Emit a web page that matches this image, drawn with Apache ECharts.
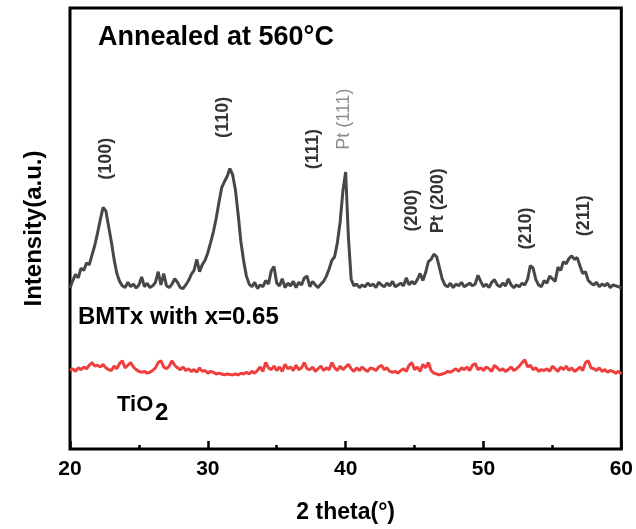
<!DOCTYPE html>
<html>
<head>
<meta charset="utf-8">
<script src="https://cdn.jsdelivr.net/npm/echarts@6/dist/echarts.min.js"></script>
<style>
  html, body { margin: 0; padding: 0; background: #fff; }
  #xrd { width: 636px; height: 529px; }
</style>
</head>
<body>
<div id="xrd"></div>
<script>
// 2 theta grid: 20.0 .. 60.0 deg, step 0.2
const thetaStart = 20;
const thetaStep = 0.2;

// BMTx with x=0.65 (a.u.)
const bmtIntensity = [
  365, 382, 396, 388, 410, 405, 422, 418, 440, 462,
  490, 520, 548, 540, 505, 470, 430, 398, 380, 370,
  366, 378, 368, 374, 365, 372, 390, 368, 376, 366,
  370, 378, 402, 372, 398, 370, 366, 374, 386, 378,
  366, 364, 372, 382, 396, 405, 430, 402, 418, 428,
  445, 468, 492, 522, 558, 592, 606, 618, 636, 622,
  588, 532, 470, 426, 392, 374, 368, 378, 364, 372,
  368, 382, 374, 404, 414, 376, 370, 386, 366, 376,
  370, 380, 366, 378, 372, 388, 392, 368, 380, 372,
  366, 374, 380, 392, 408, 428, 436, 468, 515, 585,
  628, 480, 385, 370, 374, 366, 372, 368, 376, 370,
  374, 366, 378, 372, 368, 376, 370, 380, 368, 372,
  376, 370, 388, 372, 380, 374, 384, 398, 382, 400,
  425, 430, 442, 436, 412, 386, 372, 368, 376, 366,
  374, 370, 378, 368, 372, 376, 370, 374, 394, 380,
  368, 374, 366, 378, 384, 372, 368, 376, 370, 386,
  372, 366, 372, 368, 376, 372, 385, 416, 410, 384,
  372, 368, 382, 376, 392, 386, 380, 412, 405, 425,
  420, 432, 438, 430, 434, 415, 398, 402, 382, 376,
  372, 378, 368, 374, 370, 376, 366, 372, 370, 368,
  365
];

// TiO2 substrate
const tio2Intensity = [
  178, 182, 176, 184, 180, 186, 182, 190, 196, 188,
  190, 186, 192, 184, 180, 178, 188, 182, 194, 200,
  184, 190, 196, 186, 180, 176, 174, 176, 172, 174,
  178, 184, 196, 200, 186, 182, 188, 200, 190, 184,
  180, 186, 178, 182, 176, 180, 174, 184, 176, 178,
  172, 176, 174, 170, 172, 170, 168, 170, 169, 168,
  170, 168, 172, 170, 174, 170, 176, 172, 178, 186,
  176, 196, 184, 180, 188, 178, 186, 176, 192, 182,
  186, 178, 190, 180, 184, 196, 182, 180, 186, 176,
  182, 188, 178, 184, 180, 196, 184, 178, 188, 180,
  186, 192, 182, 176, 184, 178, 186, 180, 176, 184,
  182, 178, 186, 190, 180, 184, 176, 174, 176, 172,
  178, 182, 176, 190, 196, 180, 186, 176, 192, 184,
  196, 178, 172, 170, 168, 170, 172, 176, 174, 178,
  182, 176, 184, 180, 186, 178, 190, 194, 180, 184,
  178, 186, 182, 176, 190, 184, 178, 182, 176, 180,
  186, 178, 182, 188, 196, 202, 186, 190, 180, 184,
  176, 180, 178, 182, 176, 188, 182, 176, 186, 180,
  188, 178, 184, 176, 180, 186, 178, 196, 200, 184,
  182, 178, 184, 176, 180, 174, 178, 176, 172, 176,
  170
];

// peak labels: text, 2theta position, height of label centre, colour
const peakNames = ["(100)", "(110)", "(111)", "Pt (111)", "(200)", "Pt (200)", "(210)", "(211)"];
const peakTheta = [22.6, 31.1, 37.6, 39.9, 44.8, 46.7, 53.1, 57.3];
const peakLabelY = [658, 752, 680, 748, 541, 563, 500, 529];
const peakColors = ["#000", "#000", "#000", "#707070", "#000", "#000", "#000", "#000"];

const xTicks = [20, 30, 40, 50, 60];

const font = "'Liberation Sans', Arial, sans-serif";

const toPairs = (arr) => arr.map((v, i) => [+(thetaStart + i * thetaStep).toFixed(1), v]);

const chart = echarts.init(document.getElementById("xrd"));

const option = {
  animation: false,
  backgroundColor: "#fff",
  grid: {
    left: 70,
    right: 14,
    top: 8,
    bottom: 77,
    show: true,
    borderColor: "#000",
    borderWidth: 3,
  },
  xAxis: {
    type: "value",
    min: xTicks[0],
    max: xTicks[xTicks.length - 1],
    interval: 10,
    name: "2 theta(°)",
    nameLocation: "middle",
    nameGap: 52,
    nameTextStyle: { fontSize: 23, fontWeight: "bold", color: "#000", fontFamily: font },
    axisLine: { show: false },
    axisTick: { show: true, inside: true, length: 8, lineStyle: { color: "#000", width: 2.5 } },
    minorTick: { show: true, splitNumber: 2, length: 4, lineStyle: { color: "#000", width: 2.5 } },
    axisLabel: { fontSize: 21, fontWeight: "bold", color: "#000", margin: 10, fontFamily: font },
    splitLine: { show: false },
  },
  yAxis: {
    type: "value",
    min: 0,
    max: 1000,
    name: "Intensity(a.u.)",
    nameLocation: "middle",
    nameGap: 24,
    nameTextStyle: { fontSize: 24, fontWeight: "bold", color: "#000", fontFamily: font },
    axisLine: { show: false },
    axisTick: { show: false },
    axisLabel: { show: false },
    splitLine: { show: false },
  },
  series: [
    {
      name: "BMTx",
      type: "line",
      data: toPairs(bmtIntensity),
      showSymbol: false,
      lineStyle: { color: "#474747", width: 3 },
      z: 3,
    },
    {
      name: "TiO2",
      type: "line",
      data: toPairs(tio2Intensity),
      showSymbol: false,
      lineStyle: { color: "#ef3e3e", width: 3 },
      z: 2,
    },
    {
      name: "peaks",
      type: "scatter",
      symbolSize: 0,
      z: 5,
      data: peakNames.map((n, i) => ({
        name: n,
        value: [peakTheta[i], peakLabelY[i]],
        label: { color: peakColors[i], fontWeight: i === 3 ? "normal" : "bold" },
      })),
      label: {
        show: true,
        position: "inside",
        formatter: "{b}",
        rotate: 90,
        fontSize: 18,
        fontFamily: font,
        align: "center",
        verticalAlign: "middle",
      },
    },
  ],
  graphic: [
    {
      type: "text",
      x: 98,
      y: 38,
      style: { text: "Annealed at 560°C", fontSize: 27, fontWeight: "bold", fontFamily: font, fill: "#000", verticalAlign: "middle" },
    },
    {
      type: "text",
      x: 78,
      y: 317,
      style: { text: "BMTx with x=0.65", fontSize: 24, fontWeight: "bold", fontFamily: font, fill: "#000", verticalAlign: "middle" },
    },
    {
      type: "text",
      x: 117,
      y: 405,
      style: { text: "TiO", fontSize: 22, fontWeight: "bold", fontFamily: font, fill: "#000", verticalAlign: "middle" },
    },
    {
      type: "text",
      x: 155,
      y: 413,
      style: { text: "2", fontSize: 24, fontWeight: "bold", fontFamily: font, fill: "#000", verticalAlign: "middle" },
    },
  ],
};

chart.setOption(option);
</script>
</body>
</html>
